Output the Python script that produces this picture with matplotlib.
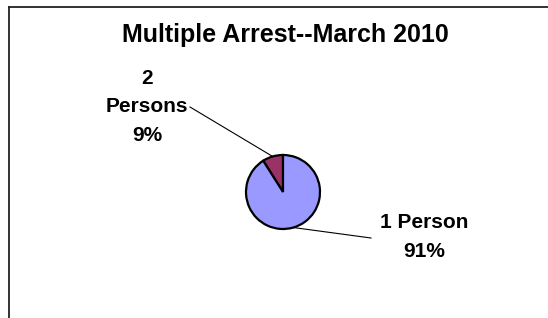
import numpy as np
import matplotlib.pyplot as plt
from matplotlib.lines import Line2D

# data
kategorie = ['2\nPersons', '1 Person']
procenty = [9, 91]
kolory = ['#993366', '#9999FF']
tytul = 'Multiple Arrest--March 2010'

plt.rcParams['font.family'] = ['Liberation Sans', 'DejaVu Sans']

W, H = 548, 318
fig = plt.figure(figsize=(W / 100, H / 100), dpi=100)
ax = fig.add_axes([0, 0, 1, 1])
ax.set_xlim(0, W)
ax.set_ylim(0, H)
ax.set_aspect('equal')
ax.axis('off')

# chart area frame (only top and left visible)
fig.add_artist(Line2D([9 / W, 9 / W], [0, 1 - 6.5 / H], color='#222222', lw=1.3))
fig.add_artist(Line2D([9 / W, 1], [1 - 6.5 / H, 1 - 6.5 / H], color='#222222', lw=1.3))

srodek = (283, H - 192)
r = 37
wedges, _ = ax.pie(procenty, colors=kolory, startangle=90, counterclock=True,
                   center=srodek, radius=r, frame=True,
                   wedgeprops=dict(edgecolor='black', linewidth=1.6))
ax.set_xlim(0, W)
ax.set_ylim(0, H)
ax.axis('off')

fig.text(285 / W, 1 - 35 / H, tytul, ha='center', va='center',
         fontsize=18, fontweight='bold')

# labels with leader lines
pozycje = [(147, 107), (424, 237)]
konce = [(190, 107), (371, 238)]
for w, kat, p, pozycja, koniec in zip(wedges, kategorie, procenty, pozycje, konce):
    kat_sr = np.deg2rad((w.theta1 + w.theta2) / 2)
    xy = (srodek[0] + r * np.cos(kat_sr), srodek[1] + r * np.sin(kat_sr))
    ax.text(pozycja[0], H - pozycja[1], f'{kat}\n{p}%', ha='center', va='center',
            fontsize=15, fontweight='bold', linespacing=1.65)
    ax.plot([koniec[0], xy[0]], [H - koniec[1], xy[1]], color='black', lw=0.8)

fig.savefig('out.png', dpi=100)
